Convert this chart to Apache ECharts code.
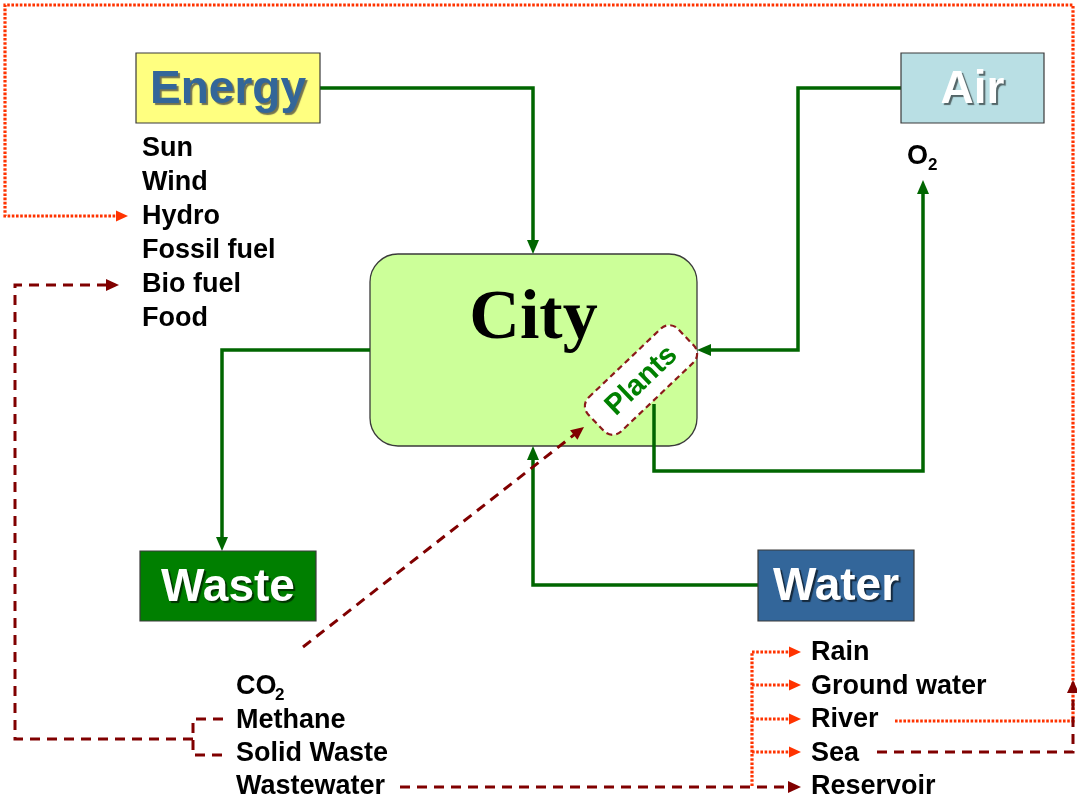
<!DOCTYPE html>
<html>
<head>
<meta charset="utf-8">
<title>City resource flows</title>
<script src="https://cdn.jsdelivr.net/npm/echarts@6/dist/echarts.min.js"></script>
<style>
html, body { margin: 0; padding: 0; background: #fff; }
#main { width: 1077px; height: 800px; }
</style>
</head>
<body>
<div id="main"></div>
<script>
// ---- labels ----
var boxNames = ['Energy', 'Air', 'Waste', 'Water'];
var energySources = ['Sun', 'Wind', 'Hydro', 'Fossil fuel', 'Bio fuel', 'Food'];
var wasteOutputs = ['CO', 'Methane', 'Solid Waste', 'Wastewater'];
var waterSources = ['Rain', 'Ground water', 'River', 'Sea', 'Reservoir'];
var subscripts = ['2', '2'];   // CO2, O2

// ---- layout (canvas units, y down) ----
var boxLayout = {
  Energy: { x0: 136, y0: 53, x1: 320, y1: 123, fill: '#FFFF80', color: '#336699', shadow: 'rgba(0,0,40,0.55)' },
  Air:    { x0: 901, y0: 53, x1: 1044, y1: 123, fill: '#B9DFE4', color: '#ffffff', shadow: 'rgba(0,0,0,0.55)' },
  Waste:  { x0: 140, y0: 551, x1: 316, y1: 621, fill: '#007F00', color: '#ffffff', shadow: 'rgba(0,0,0,0.6)' },
  Water:  { x0: 758, y0: 550, x1: 914, y1: 621, fill: '#33669A', color: '#ffffff', shadow: 'rgba(0,0,0,0.6)' }
};
var cityLayout = { x0: 370, y0: 254, x1: 697, y1: 446, label: 'City' };
var plantsLayout = { cx: 641, cy: 380, w: 124, h: 47, angle: 43.6, label: 'Plants' };
var listLayout = {
  energy: { x: 142, y: 149, step: 34 },
  waste:  { x: 236, y: 687, step: 33.3 },
  water:  { x: 811, y: 653, step: 33.5 }
};

// connector paths
var connectors = [
  { kind: 'green', arrow: true, pts: [[320, 88], [533, 88], [533, 254]] },
  { kind: 'green', arrow: true, pts: [[370, 350], [222, 350], [222, 551]] },
  { kind: 'green', arrow: true, pts: [[901, 88], [798, 88], [798, 350], [697, 350]] },
  { kind: 'green', arrow: true, pts: [[654, 404], [654, 471], [923, 471], [923, 180]] },
  { kind: 'green', arrow: true, pts: [[758, 585], [533, 585], [533, 446]] },
  { kind: 'orange', arrow: true, pts: [[895, 721], [1073, 721], [1073, 5], [5, 5], [5, 216], [128, 216]] },
  { kind: 'orange', arrow: false, pts: [[752, 786], [752, 652]] },
  { kind: 'orange', arrow: true, pts: [[752, 652], [801, 652]] },
  { kind: 'orange', arrow: true, pts: [[752, 685], [801, 685]] },
  { kind: 'orange', arrow: true, pts: [[752, 719], [801, 719]] },
  { kind: 'orange', arrow: true, pts: [[752, 752], [801, 752]] },
  { kind: 'red', arrow: true, pts: [[400, 787], [801, 787]] },
  { kind: 'red', arrow: true, pts: [[303, 647], [584, 427]] },
  { kind: 'red', arrow: false, pts: [[223, 719], [193, 719], [193, 755], [223, 755]] },
  { kind: 'red', arrow: true, pts: [[193, 739], [15, 739], [15, 285], [119, 285]] },
  { kind: 'red', arrow: true, pts: [[877, 752], [1073, 752], [1073, 680]] }
];

var lineKinds = {
  green:  { color: '#006600', width: 3.5, dash: null, head: [14, 12] },
  orange: { color: '#FF3300', width: 3.2, dash: [2.6, 1.6], head: [12, 11] },
  red:    { color: '#800000', width: 3, dash: [10, 7], head: [13, 12] }
};

var FONT = '"Liberation Sans", Arial, sans-serif';

function renderBox(params, api) {
  var name = boxNames[params.dataIndex];
  var b = boxLayout[name];
  var p0 = api.coord([b.x0, b.y0]);
  var p1 = api.coord([b.x1, b.y1]);
  return {
    type: 'group',
    children: [
      { type: 'rect', shape: { x: p0[0], y: p0[1], width: p1[0] - p0[0], height: p1[1] - p0[1] },
        style: { fill: b.fill, stroke: '#3a3a3a', lineWidth: 1.2 } },
      { type: 'text', style: {
          text: name, x: (p0[0] + p1[0]) / 2, y: (p0[1] + p1[1]) / 2 + 2,
          align: 'center', verticalAlign: 'middle',
          font: 'bold 46px ' + FONT, fill: b.color,
          textShadowColor: b.shadow, textShadowOffsetX: 2, textShadowOffsetY: 2, textShadowBlur: 1 } }
    ]
  };
}

function renderCity(params, api) {
  var p0 = api.coord([cityLayout.x0, cityLayout.y0]);
  var p1 = api.coord([cityLayout.x1, cityLayout.y1]);
  return {
    type: 'group',
    children: [
      { type: 'rect', shape: { x: p0[0], y: p0[1], width: p1[0] - p0[0], height: p1[1] - p0[1], r: 28 },
        style: { fill: '#CCFF99', stroke: '#3a3a3a', lineWidth: 1.3 } },
      { type: 'text', style: {
          text: cityLayout.label, x: (p0[0] + p1[0]) / 2, y: p0[1] + 66,
          align: 'center', verticalAlign: 'middle',
          font: 'bold 70px "Liberation Serif", "Times New Roman", serif', fill: '#000',
          textShadowColor: '#ffffff', textShadowOffsetX: 2, textShadowOffsetY: 2 } }
    ]
  };
}

function renderPlants(params, api) {
  var c = api.coord([plantsLayout.cx, plantsLayout.cy]);
  var w = plantsLayout.w, h = plantsLayout.h;
  return {
    type: 'group', x: c[0], y: c[1], rotation: plantsLayout.angle * Math.PI / 180,
    children: [
      { type: 'rect', shape: { x: -w / 2, y: -h / 2, width: w, height: h, r: 12 },
        style: { fill: '#ffffff', stroke: '#8B1A1A', lineWidth: 2.2, lineDash: [6, 4] } },
      { type: 'text', style: {
          text: plantsLayout.label, x: 0, y: 1, align: 'center', verticalAlign: 'middle',
          font: 'bold 29px ' + FONT, fill: '#008000' } }
    ]
  };
}

function renderConnector(params, api) {
  var c = connectors[params.dataIndex];
  var st = lineKinds[c.kind];
  var pts = c.pts.map(function (p) { return api.coord(p); });
  var n = pts.length;
  var linePts = pts.slice();
  var children = [];
  if (c.arrow) {
    var a = pts[n - 2], b = pts[n - 1];
    var dx = b[0] - a[0], dy = b[1] - a[1];
    var len = Math.sqrt(dx * dx + dy * dy);
    var ux = dx / len, uy = dy / len;
    var L = st.head[0], W = st.head[1] / 2;
    var base = [b[0] - ux * L, b[1] - uy * L];
    linePts[n - 1] = [b[0] - ux * L * 0.7, b[1] - uy * L * 0.7];
    children.push({
      type: 'polygon',
      shape: { points: [b, [base[0] - uy * W, base[1] + ux * W], [base[0] + uy * W, base[1] - ux * W]] },
      style: { fill: st.color }
    });
  }
  children.unshift({
    type: 'polyline', shape: { points: linePts },
    style: { stroke: st.color, lineWidth: st.width, lineDash: st.dash, fill: null, lineJoin: 'miter' }
  });
  return { type: 'group', children: children };
}

function listRenderer(items, lay, subIndex, subOffset) {
  return function (params, api) {
    var i = params.dataIndex;
    var p = api.coord([lay.x, lay.y + i * lay.step]);
    var children = [
      { type: 'text', style: { text: items[i], x: p[0], y: p[1], align: 'left', verticalAlign: 'middle',
          font: 'bold 27px ' + FONT, fill: '#000' } }
    ];
    if (i === subIndex) {
      children.push({ type: 'text', style: { text: subscripts[0], x: p[0] + subOffset, y: p[1] + 8,
          align: 'left', verticalAlign: 'middle', font: 'bold 17px ' + FONT, fill: '#000' } });
    }
    return { type: 'group', children: children };
  };
}

function renderO2(params, api) {
  var p = api.coord([907, 157]);
  return {
    type: 'group',
    children: [
      { type: 'text', style: { text: 'O', x: p[0], y: p[1], align: 'left', verticalAlign: 'middle',
          font: 'bold 27px ' + FONT, fill: '#000' } },
      { type: 'text', style: { text: subscripts[1], x: p[0] + 21, y: p[1] + 8, align: 'left', verticalAlign: 'middle',
          font: 'bold 17px ' + FONT, fill: '#000' } }
    ]
  };
}

function idx(arr) { return arr.map(function (d, i) { return [i, 0]; }); }

var chart = echarts.init(document.getElementById('main'), null, { renderer: 'canvas' });
chart.setOption({
  animation: false,
  backgroundColor: '#ffffff',
  grid: { left: 0, right: 0, top: 0, bottom: 0 },
  xAxis: { type: 'value', min: 0, max: 1077, show: false },
  yAxis: { type: 'value', min: 0, max: 800, inverse: true, show: false },
  series: [
    { type: 'custom', silent: true, z: 1, renderItem: renderCity, data: [[0, 0]] },
    { type: 'custom', silent: true, z: 2, renderItem: renderConnector, data: idx(connectors) },
    { type: 'custom', silent: true, z: 3, renderItem: renderBox, data: idx(boxNames) },
    { type: 'custom', silent: true, z: 4, renderItem: renderPlants, data: [[0, 0]] },
    { type: 'custom', silent: true, z: 5, renderItem: listRenderer(energySources, listLayout.energy, -1, 0), data: idx(energySources) },
    { type: 'custom', silent: true, z: 5, renderItem: listRenderer(wasteOutputs, listLayout.waste, 0, 39), data: idx(wasteOutputs) },
    { type: 'custom', silent: true, z: 5, renderItem: listRenderer(waterSources, listLayout.water, -1, 0), data: idx(waterSources) },
    { type: 'custom', silent: true, z: 5, renderItem: renderO2, data: [[0, 0]] }
  ]
});
</script>
</body>
</html>
